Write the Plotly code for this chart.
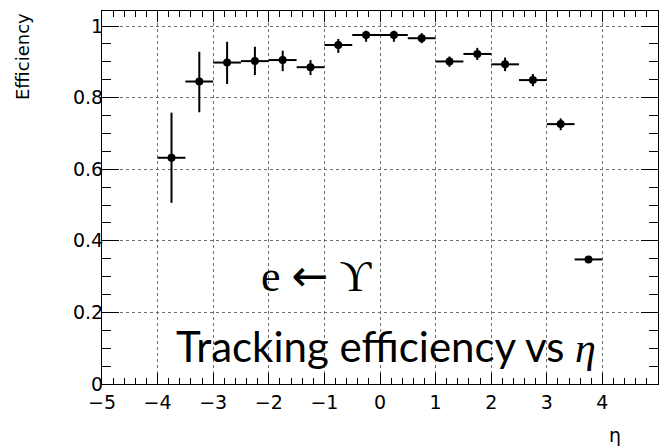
import plotly.graph_objects as go

# Tracking efficiency per eta bin (bin width 0.5)
eta_centers = [-3.75, -3.25, -2.75, -2.25, -1.75, -1.25, -0.75, -0.25,
               0.25, 0.75, 1.25, 1.75, 2.25, 2.75, 3.25, 3.75]
efficiency = [0.632, 0.845, 0.898, 0.902, 0.905, 0.885, 0.947, 0.975,
              0.975, 0.966, 0.901, 0.922, 0.893, 0.849, 0.726, 0.348]
err_up = [0.126, 0.083, 0.058, 0.040, 0.026, 0.020, 0.017, 0.012,
          0.012, 0.014, 0.014, 0.017, 0.019, 0.017, 0.016, 0.005]
err_down = [0.126, 0.086, 0.060, 0.039, 0.031, 0.022, 0.022, 0.019,
            0.019, 0.014, 0.015, 0.017, 0.019, 0.017, 0.017, 0.005]
half_bin = [0.25] * len(eta_centers)

W, H = 659, 447
L, R, T, B = 102, 1, 11, 63
PW, PH = W - L - R, H - T - B


def px_to_paper(px, py):
    return (px - L) / PW, (H - B - py) / PH


fig = go.Figure()
fig.add_trace(go.Scatter(
    x=eta_centers, y=efficiency, mode="markers",
    marker=dict(color="black", size=8, symbol="circle"),
    error_y=dict(type="data", symmetric=False, array=err_up, arrayminus=err_down,
                 color="black", thickness=2, width=0),
    error_x=dict(type="data", array=half_bin, color="black", thickness=2, width=0),
    showlegend=False,
))

axis_common = dict(
    showline=True, linecolor="black", linewidth=1, mirror="allticks",
    ticks="inside", tickcolor="black", tickwidth=1,
    showgrid=True, gridcolor="#6e6e6e", gridwidth=1, griddash="dot",
    zeroline=False,
    tickfont=dict(family="DejaVu Sans", size=19, color="black"),
)

fig.update_xaxes(range=[-5, 5], dtick=1, tick0=0, ticklen=11, ticklabelstandoff=1,
                 minor=dict(dtick=0.2, ticklen=6, ticks="inside", tickcolor="black",
                            showgrid=False),
                 **axis_common)
fig.update_yaxes(range=[0, 1.042], dtick=0.2, tick0=0, ticklen=17, ticklabelstandoff=-6,
                 minor=dict(dtick=0.05, ticklen=9, ticks="inside", tickcolor="black",
                            showgrid=False),
                 **axis_common)

annotations = []
x, y = px_to_paper(23, 57)
annotations.append(dict(text="Efficiency", x=x, y=y, xref="paper", yref="paper",
                        textangle=-90, showarrow=False, xanchor="center", yanchor="middle",
                        font=dict(family="DejaVu Sans", size=18, color="black")))
x, y = px_to_paper(615, 435)
annotations.append(dict(text="η", x=x, y=y, xref="paper", yref="paper",
                        showarrow=False, xanchor="center", yanchor="middle",
                        font=dict(family="DejaVu Sans", size=19, color="black")))
x, y = px_to_paper(316, 275)
annotations.append(dict(
    text="e <span style='font-family:DejaVu Sans'>←</span> ϒ",
    x=x, y=y, xref="paper", yref="paper",
    showarrow=False, xanchor="center", yanchor="middle",
    font=dict(family="Liberation Serif, DejaVu Serif", size=44, color="black")))
x, y = px_to_paper(386, 346)
annotations.append(dict(
    text="Tracking efficiency vs <span style='font-family:Liberation Serif'><i>η</i></span>",
    x=x, y=y, xref="paper", yref="paper",
    showarrow=False, xanchor="center", yanchor="middle",
    font=dict(family="Lato", size=42, color="black")))

fig.update_layout(
    width=W, height=H,
    margin=dict(l=L, r=R, t=T, b=B, pad=0),
    paper_bgcolor="white", plot_bgcolor="white",
    annotations=annotations,
)

fig.write_html("out.html")
